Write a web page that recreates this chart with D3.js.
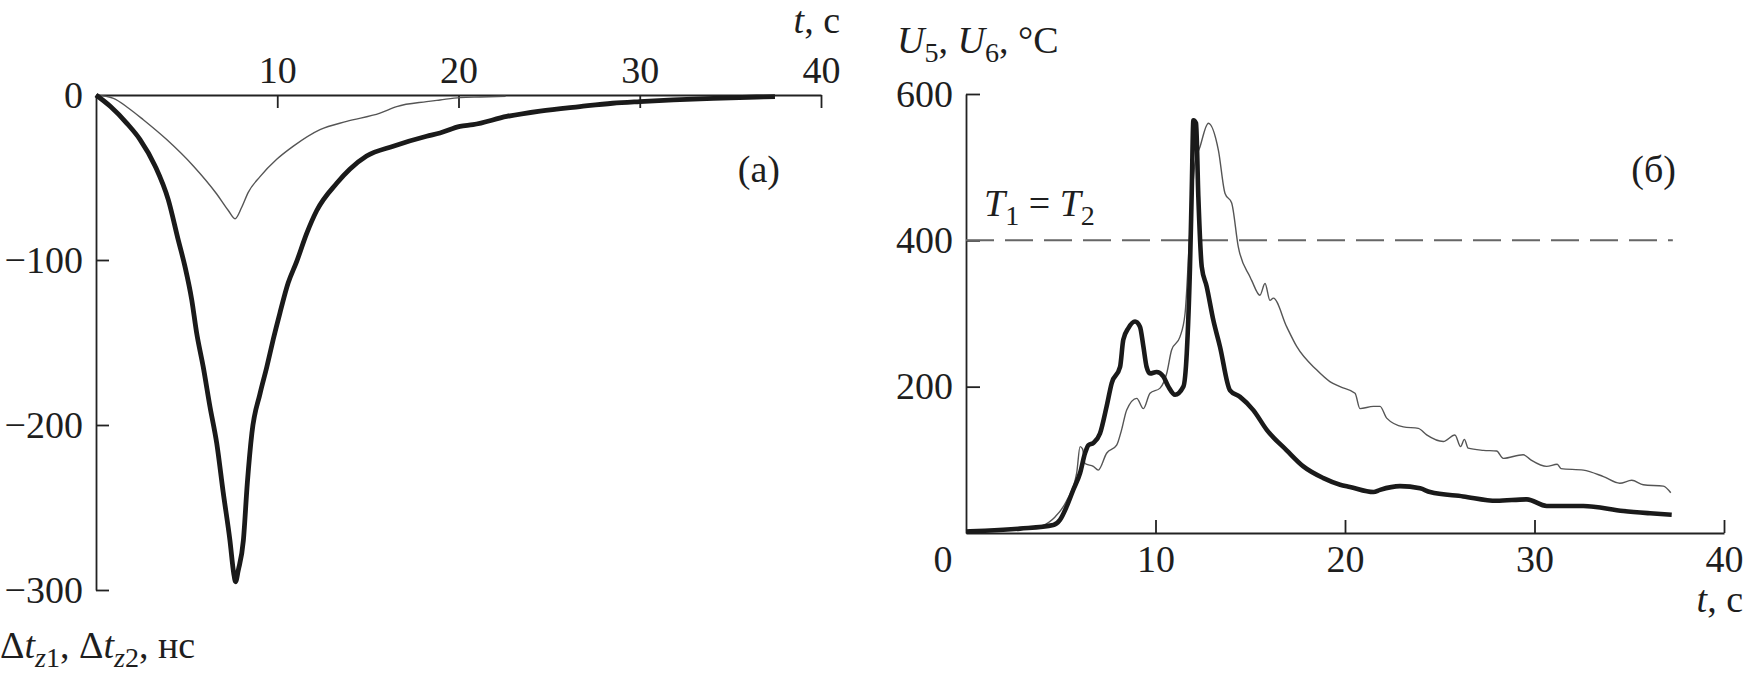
<!DOCTYPE html>
<html><head><meta charset="utf-8">
<script src="https://cdn.jsdelivr.net/npm/d3@7/dist/d3.min.js"></script>
<style>
html,body{margin:0;padding:0;background:#fff;}
svg{display:block;}
text{font-family:"Liberation Serif","DejaVu Serif",serif;fill:#1e1e1e;}
</style></head>
<body>
<svg id="chart" width="1745" height="674"></svg>
<script>
// ---------- DATA ----------
// Panel (a): Δt_z1 (thick) and Δt_z2 (thin), ns vs t, s
const dtz1 = [[0,0],[0.8,-7],[1.69,-17],[2.43,-27],[3.26,-43],[3.99,-63.6],[4.54,-88],[4.91,-104],[5.28,-124],[5.55,-144],[5.92,-165],[6.29,-189],[6.66,-211],[7.02,-241],[7.39,-270],[7.6,-290],[7.7,-295],[7.85,-288],[8.13,-270],[8.35,-235],[8.6,-205],[9.05,-181],[9.42,-165],[9.78,-148],[10.15,-132],[10.6,-114],[11.07,-101],[11.62,-84],[12.18,-70],[13.28,-53.5],[14.0,-45],[14.93,-37],[16.4,-31],[18.24,-25],[18.98,-23],[20.08,-19],[20.8,-18],[22.66,-13],[24.5,-9.7],[26.7,-7],[28.5,-5],[30,-4],[31.85,-3],[34.06,-2],[36.45,-1.2],[37.46,-1]];
const dtz2 = [[0,0],[0.96,-2],[1.8,-8],[2.61,-15],[3.9,-27],[5.37,-43],[6.66,-60],[7.3,-70],[7.67,-75],[8.04,-68],[8.4,-59],[9.05,-49.5],[9.97,-39],[10.89,-31],[12.36,-21],[13.83,-16],[15.67,-11],[16.59,-7],[18.24,-4],[18.98,-3],[20.08,-1.6],[21.2,-1.2],[22.6,-0.8]];
// Panel (б): U5 (thick) and U6 (thin), °C vs t, s
const u5 = [[0,2],[1,3],[2.85,6],[4.61,11],[4.96,18],[5.31,36],[5.66,59],[6.02,82],[6.28,109],[6.46,120],[6.72,123],[7.07,136],[7.42,173],[7.69,205],[8.13,227],[8.3,264],[8.57,280],[8.92,289],[9.18,282],[9.36,255],[9.53,227],[9.71,218],[10.06,220],[10.41,214],[10.68,200],[11.03,189],[11.47,200],[11.65,246],[11.82,364],[11.91,464],[12.0,564],[12.14,560],[12.26,460],[12.44,364],[12.7,337],[13.05,291],[13.4,255],[13.93,195],[14.46,186],[15.16,168],[15.87,141],[16.92,113],[17.8,91],[18.86,75],[19.74,66],[20.26,63],[21.5,56],[21.85,59],[22.9,64],[23.96,61],[24.49,56],[26.24,50],[28.0,44],[29.6,46],[30.64,37],[32.58,37],[34.69,30],[36.1,27],[37.24,25]];
const u6 = [[0,2],[2.85,5],[4.0,10],[4.7,22],[5.31,44],[5.84,82],[6.02,118],[6.15,115],[6.28,95],[6.72,91],[6.98,86],[7.42,109],[7.95,120],[8.21,141],[8.48,168],[9.01,184],[9.36,170],[9.71,191],[10.24,198],[10.59,218],[10.85,250],[11.29,268],[11.56,300],[11.82,414],[12.08,505],[12.35,528],[12.79,560],[13.32,523],[13.67,464],[14.02,451],[14.37,391],[14.99,350],[15.08,345],[15.51,325],[15.78,341],[16.04,318],[16.22,321],[16.92,282],[17.45,255],[18.5,223],[19.2,207],[19.74,200],[20.53,191],[20.79,170],[21.5,173],[21.85,173],[22.2,157],[23.08,145],[23.87,143],[24.31,134],[25.19,125],[25.8,134],[26.1,118],[26.3,128],[26.5,116],[27.3,113],[28.0,112],[28.35,102],[29.4,107],[29.8,100],[30.64,91],[31.2,94],[31.4,88],[32.58,86],[33.64,77],[34.5,68],[35.13,72],[35.74,66],[36.8,64],[37.19,55]];
const thresholdLine = [[0,400],[37.3,400]];
const ticksAX = [10,20,30,40];
const ticksAY = [0,-100,-200,-300];
const ticksBX = [10,20,30,40];
const ticksBY = [200,400,600];

// ---------- LAYOUT ----------
const svg = d3.select("#chart");
const FS = 38;

const xa = d3.scaleLinear().domain([0,40]).range([96,821]);
const ya = d3.scaleLinear().domain([0,-300]).range([95,590]);
const xb = d3.scaleLinear().domain([0,40]).range([966,1724]);
const yb = d3.scaleLinear().domain([0,600]).range([533,94]);

function styleAxis(g){
  g.attr("font-family",null).attr("font-size",null);
  g.selectAll("path.domain").attr("stroke","#222").attr("stroke-width",1.8);
  g.selectAll(".tick line").attr("stroke","#222").attr("stroke-width",1.8);
  g.selectAll("text").attr("font-size",FS).attr("fill","#1e1e1e");
}
const fmtMinus = d => d < 0 ? "\u2212" + Math.abs(d) : String(d);

const gax = svg.append("g").attr("transform",`translate(0,${ya(0)})`)
  .call(d3.axisTop(xa).tickValues(ticksAX).tickSizeInner(-13).tickSizeOuter(0).tickPadding(12));
styleAxis(gax);
const gay = svg.append("g").attr("transform",`translate(${xa(0)},0)`)
  .call(d3.axisLeft(ya).tickValues(ticksAY).tickSizeInner(-13).tickSizeOuter(0).tickPadding(13).tickFormat(fmtMinus));
styleAxis(gay);
gay.selectAll(".tick line").filter(d=>d===0).remove();

const gbx = svg.append("g").attr("transform",`translate(0,${yb(0)})`)
  .call(d3.axisBottom(xb).tickValues(ticksBX).tickSizeInner(-13).tickSizeOuter(0).tickPadding(39));
styleAxis(gbx);
gbx.selectAll("text").attr("dy","0");
const gby = svg.append("g").attr("transform",`translate(${xb(0)},0)`)
  .call(d3.axisLeft(yb).tickValues(ticksBY).tickSizeInner(-14).tickSizeOuter(0).tickPadding(13));
styleAxis(gby);
svg.append("text").attr("x",xb(0)-23).attr("y",yb(0)+39).attr("text-anchor","middle")
  .attr("font-size",FS).text("0");

// ---------- LINES ----------
const lineA = d3.line().x(d=>xa(d[0])).y(d=>ya(d[1])).curve(d3.curveMonotoneX);
const lineB = d3.line().x(d=>xb(d[0])).y(d=>yb(d[1])).curve(d3.curveMonotoneX);

svg.append("path").datum(dtz2).attr("d",lineA).attr("fill","none").attr("stroke","#555").attr("stroke-width",1.4).attr("stroke-linejoin","round");
svg.append("path").datum(dtz1).attr("d",lineA).attr("fill","none").attr("stroke","#1a1a1a").attr("stroke-width",4.8).attr("stroke-linejoin","round");

svg.append("path").datum(thresholdLine).attr("d",d3.line().x(d=>xb(d[0])).y(d=>yb(d[1]))).attr("fill","none").attr("stroke","#666").attr("stroke-width",2).attr("stroke-dasharray","28,11");
svg.append("path").datum(u6).attr("d",lineB).attr("fill","none").attr("stroke","#555").attr("stroke-width",1.4).attr("stroke-linejoin","round");
svg.append("path").datum(u5).attr("d",lineB).attr("fill","none").attr("stroke","#1a1a1a").attr("stroke-width",4.6).attr("stroke-linejoin","round");

// ---------- LABELS ----------
function rich(x,y,parts,anchor){
  const t = svg.append("text").attr("x",x).attr("y",y).attr("font-size",FS).attr("text-anchor",anchor||"start");
  parts.forEach(p=>{
    const s = t.append("tspan").text(p.t);
    if(p.i) s.attr("font-style","italic");
    if(p.sub){ s.attr("font-size",FS*0.74).attr("dy", p.dy); }
    else if(p.dy) s.attr("dy",p.dy);
  });
  return t;
}
rich(840,33,[{t:"t",i:true},{t:", с"}],"end");
rich(0,658,[{t:"Δ"},{t:"t",i:true},{t:"z",i:true,sub:true,dy:9},{t:"1",sub:true},{t:", Δ",dy:-9},{t:"t",i:true},{t:"z",i:true,sub:true,dy:9},{t:"2",sub:true},{t:", нс",dy:-9}]);
svg.append("text").attr("x",780).attr("y",182).attr("text-anchor","end").attr("font-size",FS).text("(а)");
rich(897,53,[{t:"U",i:true},{t:"5",sub:true,dy:9},{t:", ",dy:-9},{t:"U",i:true},{t:"6",sub:true,dy:9},{t:", °C",dy:-9}]);
rich(984,216,[{t:"T",i:true},{t:"1",sub:true,dy:9},{t:" = ",dy:-9},{t:"T",i:true},{t:"2",sub:true,dy:9}]);
svg.append("text").attr("x",1676).attr("y",182).attr("text-anchor","end").attr("font-size",FS).text("(б)");
rich(1743,612,[{t:"t",i:true},{t:", с"}],"end");
</script>
</body></html>
